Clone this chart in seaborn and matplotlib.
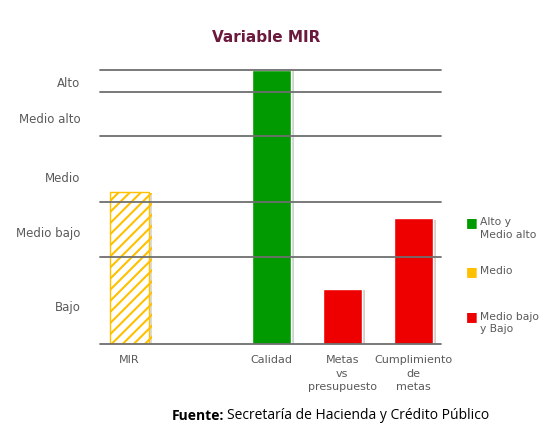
import pandas as pd
import seaborn as sns
import matplotlib.pyplot as plt
import matplotlib.patheffects as pe

# slots del eje x (el segundo va vacio)
categorias = ['MIR', ' ', 'Calidad', 'Metas\nvs\npresupuesto', 'Cumplimiento\nde\nmetas']
barras = ['MIR', 'Calidad', 'Metas\nvs\npresupuesto', 'Cumplimiento\nde\nmetas']
valores = [55.6, 100, 20.2, 46.0]
grupo = ['Medio', 'Alto y\nMedio alto', 'Medio bajo\ny Bajo', 'Medio bajo\ny Bajo']

niveles = ['Bajo', 'Medio bajo', 'Medio', 'Medio alto', 'Alto']
pos_niveles = [14.1, 40.9, 61.1, 82.6, 95.5]
limites = [0, 32, 52, 76, 92, 100]

grupos_leyenda = ['Alto y\nMedio alto', 'Medio', 'Medio bajo\ny Bajo']
colores = {'Alto y\nMedio alto': '#019a01', 'Medio': '#ffc000', 'Medio bajo\ny Bajo': '#ee0000'}

df = pd.DataFrame({'categoria': barras, 'valor': valores, 'grupo': grupo})

sns.set_style('white')
plt.rcParams['font.family'] = ['DejaVu Sans']
plt.rcParams['hatch.linewidth'] = 1.5

fig = plt.figure(figsize=(5.42, 4.25), dpi=100)
ax = fig.add_axes([100 / 542, 1 - 344.3 / 425, 341 / 542, 274.3 / 425])

sns.barplot(data=df, x='categoria', y='valor', hue='grupo', palette=colores,
            order=categorias, hue_order=grupos_leyenda, dodge=False, width=0.55,
            saturation=1, legend=False, ax=ax, zorder=2)

for p in ax.patches:
    p.set_path_effects([pe.SimplePatchShadow(offset=(2, -1), alpha=0.2), pe.Normal()])
    if abs(p.get_x() + p.get_width() / 2) < 0.01:
        # barra MIR rayada
        p.set_facecolor('white')
        p.set_edgecolor('#ffc000')
        p.set_linewidth(1.0)
        p.set_hatch('///')

for v in limites:
    ax.axhline(v, color='#6e6e6e', lw=1.3, zorder=3, clip_on=False)

ax.set_ylim(0, 100)
ax.set_xlim(-0.415, 4.39)
ax.set_yticks(pos_niveles, niveles)
ax.set_xlabel('')
ax.set_ylabel('')
ax.tick_params(axis='y', length=0, pad=14, labelsize=8.5, labelcolor='#5a5a5a')
ax.tick_params(axis='x', length=0, pad=8, labelsize=8, labelcolor='#5a5a5a')
for lbl in ax.get_xticklabels():
    lbl.set_linespacing(1.4)
sns.despine(ax=ax, left=True, bottom=True)

fig.text(266 / 542, 1 - 38 / 425, 'Variable MIR', ha='center', va='center',
         fontsize=11, fontweight='bold', color='#6b1a3e')

# leyenda manual a la derecha
ley_y = [217, 266, 311.5]
for g, y in zip(grupos_leyenda, ley_y):
    fig.text(472 / 542, 1 - (y + 5.5) / 425, '\u25a0', color=colores[g], fontsize=9,
             ha='center', va='center')
    fig.text(480 / 542, 1 - y / 425, g, ha='left', va='top', fontsize=7.75,
             color='#5a5a5a', linespacing=1.35)

t1 = fig.text(172 / 542, 1 - 415.7 / 425, 'Fuente:', ha='left', va='center',
              fontsize=10, fontweight='bold', color='black', family='Open Sans')
fig.canvas.draw()
bb = t1.get_window_extent()
fig.text((bb.x1 + 3) / 542, 1 - 415.7 / 425, 'Secretaría de Hacienda y Crédito Público',
         ha='left', va='center', fontsize=10, color='black', family='Open Sans')

fig.savefig('out.png', dpi=100)
